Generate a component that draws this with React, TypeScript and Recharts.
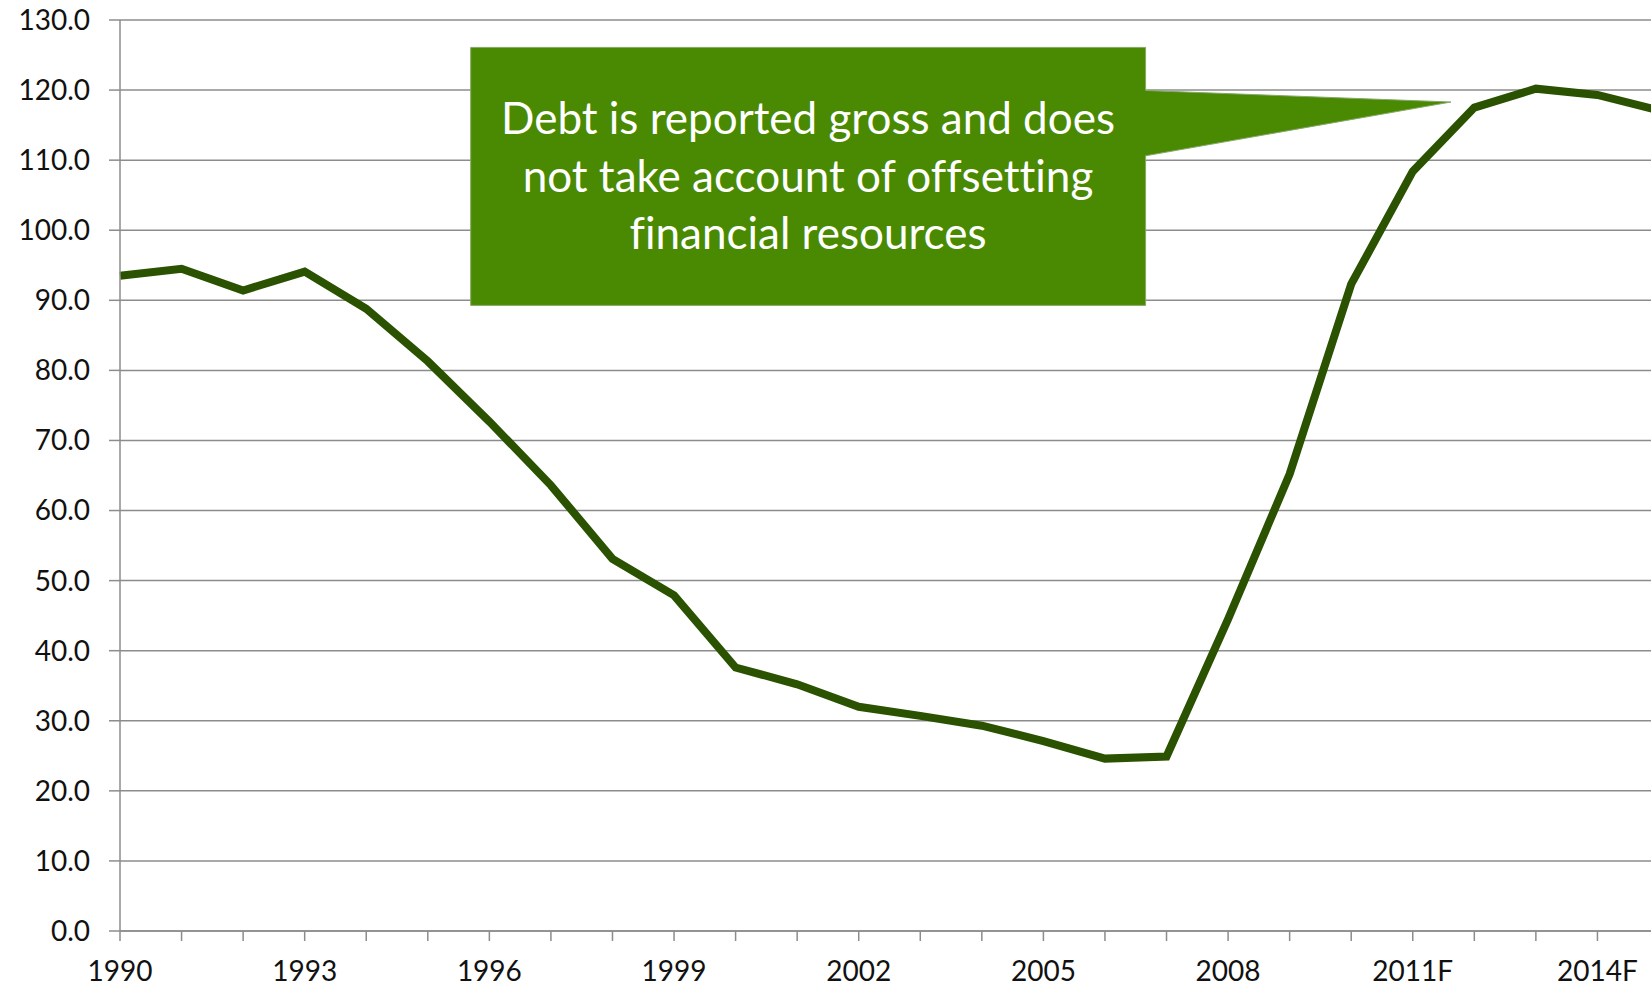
import React from 'react';
import { LineChart, Line, XAxis, YAxis, CartesianGrid } from 'recharts';

// years shown on the category axis (2011 onwards are forecasts)
const categories = [
    '1990', '1991', '1992', '1993', '1994', '1995', '1996', '1997', '1998', '1999',
    '2000', '2001', '2002', '2003', '2004', '2005', '2006', '2007', '2008', '2009',
    '2010', '2011F', '2012F', '2013F', '2014F', '2015F',
];

// gross debt, % of GDP
const debt = [
    93.5, 94.5, 91.4, 94.1, 88.8, 81.3, 72.7, 63.6, 53.1, 47.9,
    37.6, 35.2, 32.0, 30.7, 29.3, 27.1, 24.6, 24.9, 44.5, 65.2,
    92.3, 108.4, 117.5, 120.2, 119.3, 117.1,
];

const yTicks = [0, 10, 20, 30, 40, 50, 60, 70, 80, 90, 100, 110, 120, 130];

const calloutLines = [
    'Debt is reported gross and does',
    'not take account of offsetting',
    'financial resources',
];

const data = categories.map((year, i) => ({ year, debt: debt[i] }));

const FONT = 'Lato, "Open Sans", sans-serif';
const GRID = '#8c8c8c';

function YearTick(props: any) {
    const { x, y, payload, index } = props;
    if (index % 3 !== 0) return <g />;
    return (
        <text x={x} y={y} dy="0.71em" textAnchor="middle" fontFamily={FONT} fontSize={28} fill="#111">
            {payload.value}
        </text>
    );
}

export default function App() {
    return (
        <div style={{ position: 'absolute', left: 0, top: 0, width: 1651, height: 988, overflow: 'hidden', background: '#fff' }}>
            <LineChart width={1659} height={988} data={data} margin={{ top: 20, right: 0, bottom: 0, left: 0 }}>
                <CartesianGrid vertical={false} stroke={GRID} strokeWidth={1.5} />
                <XAxis
                    dataKey="year"
                    interval={0}
                    height={57}
                    tickSize={10}
                    tickMargin={20}
                    stroke={GRID}
                    strokeWidth={1.5}
                    tick={<YearTick />}
                />
                <YAxis
                    domain={[0, 130]}
                    ticks={yTicks}
                    width={120}
                    tickSize={11}
                    tickMargin={19}
                    stroke={GRID}
                    strokeWidth={1.5}
                    tickFormatter={(v: number) => v.toFixed(1)}
                    tick={{ fontFamily: FONT, fontSize: 28, fill: '#111' }}
                />
                <Line
                    type="linear"
                    dataKey="debt"
                    stroke="#2a5200"
                    strokeWidth={8}
                    dot={false}
                    isAnimationActive={false}
                />
            </LineChart>

            <svg width={1651} height={988} style={{ position: 'absolute', left: 0, top: 0, pointerEvents: 'none' }}>
                <path
                    d="M470.7,47.4 H1145.6 V90.5 L1451,102 L1145.6,155.8 V305.4 H470.7 Z"
                    fill="#4a8a02"
                    stroke="#86a86a"
                    strokeWidth={1}
                />
                {calloutLines.map((line, i) => (
                    <text
                        key={i}
                        x={808}
                        y={134 + i * 57.5}
                        textAnchor="middle"
                        fontFamily={FONT}
                        fontSize={44}
                        fill="#fff"
                        style={{ fontVariantLigatures: 'none' }}
                    >
                        {line}
                    </text>
                ))}
            </svg>
        </div>
    );
}
